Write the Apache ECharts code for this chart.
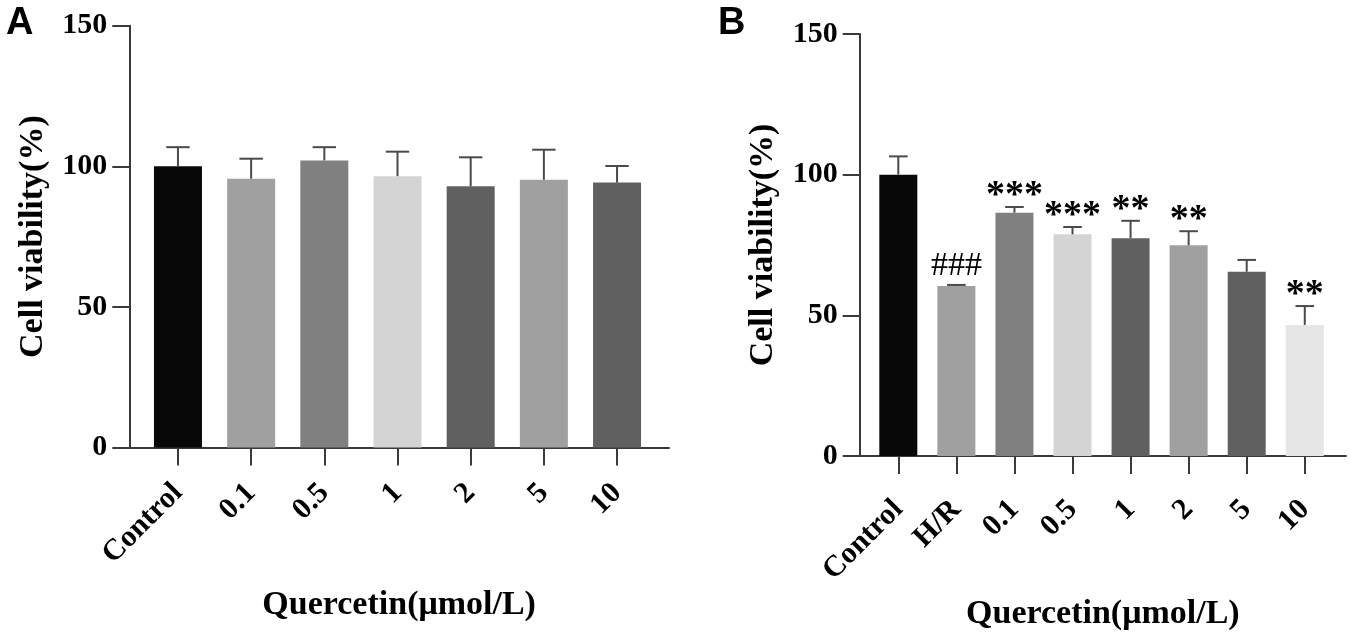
<!DOCTYPE html>
<html>
<head>
<meta charset="utf-8">
<script src="https://cdn.jsdelivr.net/npm/echarts@6/dist/echarts.min.js"></script>
<style>
html,body{margin:0;padding:0;background:#fff;}
#c{width:1350px;height:640px;}
</style>
</head>
<body>
<div id="c"></div>
<script>
const catsA = ['Control', '0.1', '0.5', '1', '2', '5', '10'];
const meanA = [100, 95.6, 102.1, 96.5, 92.9, 95.2, 94.2];
const errA = [6.8, 7.1, 4.7, 8.7, 10.3, 10.7, 5.9];
const colorsA = ['#080808', '#a0a0a0', '#808080', '#d4d4d4', '#606060', '#a0a0a0', '#606060'];

const catsB = ['Control', 'H/R', '0.1', '0.5', '1', '2', '5', '10'];
const meanB = [100, 60.4, 86.5, 78.8, 77.4, 74.9, 65.5, 46.6];
const errB = [6.5, 0.4, 2.0, 2.6, 6.2, 5.0, 4.2, 6.7];
const colorsB = ['#080808', '#a0a0a0', '#808080', '#d4d4d4', '#606060', '#a0a0a0', '#606060', '#e6e6e6'];
const sigB = ['', '###', '***', '***', '**', '**', '', '**'];

const yTicks = [0, 50, 100, 150];
const yTitle = 'Cell viability(%)';
const xTitle = 'Quercetin(\u03bcmol/L)';

const SERIF = 'Liberation Serif, Times New Roman, serif';
const AXC = '#3a3a3a';
const ERRC = '#4a4a4a';

function xAxisCfg(gridIndex, cats, labelMargin) {
  const idx = cats.map((_, i) => i);
  return {
    type: 'value', gridIndex: gridIndex,
    min: -0.665, max: cats.length - 1 + 0.71,
    splitLine: {show: false},
    axisPointer: {show: false},
    axisLine: {show: true, onZero: false, lineStyle: {color: AXC, width: 2}},
    axisTick: {show: true, customValues: idx, length: 18, lineStyle: {color: AXC, width: 2}},
    axisLabel: {
      show: true, customValues: idx, rotate: 45, margin: labelMargin,
      formatter: v => cats[Math.round(v)],
      fontFamily: SERIF, fontWeight: 'bold', fontSize: 30, color: '#000'
    },
    name: xTitle, nameLocation: 'middle', nameGap: 141, nameMoveOverlap: false,
    nameTextStyle: {fontFamily: SERIF, fontWeight: 'bold', fontSize: 34, color: '#000'}
  };
}
function yAxisCfg(gridIndex) {
  return {
    type: 'value', gridIndex: gridIndex,
    min: yTicks[0], max: yTicks[yTicks.length - 1], interval: yTicks[1] - yTicks[0],
    splitLine: {show: false},
    axisPointer: {show: false},
    axisLine: {show: true, onZero: false, lineStyle: {color: AXC, width: 2}},
    axisTick: {show: true, length: 17, lineStyle: {color: AXC, width: 2}},
    axisLabel: {margin: 22, padding: [7, 0, 0, 0], fontFamily: SERIF, fontWeight: 'bold', fontSize: 30, color: '#000'},
    name: yTitle, nameLocation: 'middle', nameGap: 79, nameMoveOverlap: false,
    nameTextStyle: {fontFamily: SERIF, fontWeight: 'bold', fontSize: 34, color: '#000'}
  };
}
function barSeries(axisIndex, means, colors, width) {
  return {
    type: 'bar', xAxisIndex: axisIndex, yAxisIndex: axisIndex, barWidth: width,
    data: means.map((m, i) => ({value: [i, m], itemStyle: {color: colors[i]}})),
    silent: true, animation: false, z: 3
  };
}
function errSeries(axisIndex, means, errs, sigs) {
  return {
    type: 'custom', xAxisIndex: axisIndex, yAxisIndex: axisIndex,
    dimensions: ['idx', 'mean', 'err'],
    encode: {x: 0, y: 1},
    data: means.map((m, i) => [i, m, errs[i]]),
    renderItem: function (params, api) {
      const i = api.value(0), m = api.value(1), e = api.value(2);
      const p0 = api.coord([i, m]);
      const p1 = api.coord([i, m + e]);
      const hw = api.size([1, 0])[0] * 0.16;
      const st = {stroke: ERRC, lineWidth: 2, fill: null};
      const children = [
        {type: 'polyline', shape: {points: [[p0[0], p0[1]], [p1[0], p1[1]]]}, style: st},
        {type: 'polyline', shape: {points: [[p1[0] - hw, p1[1]], [p1[0] + hw, p1[1]]]}, style: st}
      ];
      const s = sigs ? sigs[params.dataIndex] : '';
      if (s) {
        const hash = s.charAt(0) === '#';
        children.push({
          type: 'text', x: p1[0], y: p1[1] - (hash ? 19 : 11),
          style: {
            text: s, fill: '#000', align: 'center', verticalAlign: 'middle',
            font: (hash ? 'normal 34px ' : 'bold 38px ') + SERIF
          }
        });
      }
      return {type: 'group', children: children};
    },
    silent: true, animation: false, z: 4
  };
}

const chart = echarts.init(document.getElementById('c'), null, {renderer: 'canvas'});
chart.setOption({
  backgroundColor: '#fff',
  animation: false,
  tooltip: {show: false},
  title: [
    {text: 'A', left: 1, top: 0, textStyle: {fontFamily: 'Liberation Sans, Arial, sans-serif', fontWeight: 'bold', fontSize: 38, color: '#000'}},
    {text: 'B', left: 713, top: 0, textStyle: {fontFamily: 'Liberation Sans, Arial, sans-serif', fontWeight: 'bold', fontSize: 38, color: '#000'}}
  ],
  grid: [
    {left: 129.3, right: 681, top: 25.7, bottom: 192.5, containLabel: false, outerBoundsMode: 'none'},
    {left: 859.7, right: 4, top: 34, bottom: 184, containLabel: false, outerBoundsMode: 'none'}
  ],
  xAxis: [xAxisCfg(0, catsA, 41), xAxisCfg(1, catsB, 49)],
  yAxis: [yAxisCfg(0), yAxisCfg(1)],
  series: [
    barSeries(0, meanA, colorsA, 48),
    errSeries(0, meanA, errA, null),
    barSeries(1, meanB, colorsB, 38),
    errSeries(1, meanB, errB, sigB)
  ]
});
</script>
</body>
</html>
